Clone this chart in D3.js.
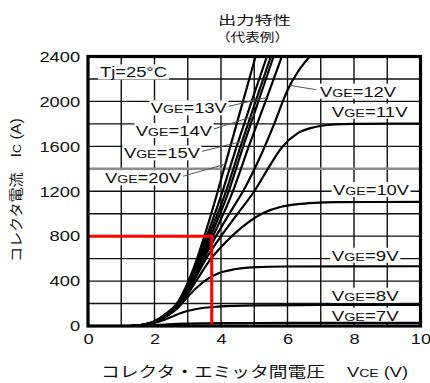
<!DOCTYPE html>
<html>
<head>
<meta charset="utf-8">
<script src="https://cdn.jsdelivr.net/npm/d3@7"></script>
<style>
  html, body { margin: 0; padding: 0; background: #fff; }
  svg { display: block; }
</style>
</head>
<body>
<svg id="chart" width="430" height="383"></svg>
<script>
// ---- Output characteristics (typical), Tj = 25°C ----
const vceTicks = [0, 2, 4, 6, 8, 10];
const icTicks = [0, 400, 800, 1200, 1600, 2000, 2400];

// Collector current Ic (A) against collector-emitter voltage VCE (V), one curve per gate voltage
const vge20V = [[1.25,0],[1.6,8],[2.0,42],[2.35,110],[2.67,200],[3.02,400],[3.28,600],[3.5,800],[3.86,1156],[4.3,1620],[4.68,2020],[5.04,2400]];
const vge17V = [[1.25,0],[1.6,8],[2.0,41],[2.36,110],[2.69,200],[3.05,400],[3.32,600],[3.57,800],[4.0,1156],[4.45,1580],[4.92,2000],[5.38,2400]];
const vge15V = [[1.26,0],[1.6,8],[2.0,40],[2.37,108],[2.7,200],[3.07,400],[3.36,600],[3.63,800],[4.1,1156],[4.6,1610],[5.05,2010],[5.5,2400]];
const vge14V = [[1.26,0],[1.6,8],[2.0,39],[2.38,106],[2.72,200],[3.1,400],[3.4,600],[3.69,800],[4.18,1156],[4.68,1610],[5.14,2015],[5.58,2400]];
const vge13V = [[1.27,0],[1.6,8],[2.0,38],[2.39,105],[2.73,200],[3.12,400],[3.44,600],[3.76,800],[4.3,1156],[4.85,1610],[5.35,2010],[5.83,2400]];
const vge12V = [[1.27,0],[1.6,8],[2.0,38],[2.4,104],[2.75,200],[3.14,400],[3.48,600],[3.85,800],[4.25,1000],[4.7,1220],[5.2,1520],[5.6,1800],[6.0,2100],[6.35,2280],[6.67,2400]];
const vge11V = [[1.28,0],[1.6,8],[2.0,37],[2.4,100],[2.77,200],[3.18,400],[3.55,600],[4.0,800],[4.5,1000],[5.0,1200],[5.45,1420],[5.83,1590],[6.3,1715],[6.8,1770],[7.3,1792],[8.0,1800],[10,1803]];
const vge10V = [[1.28,0],[1.6,8],[2.0,36],[2.4,97],[2.8,200],[3.25,400],[3.7,600],[4.01,705],[4.4,820],[4.81,920],[5.3,1010],[5.81,1062],[6.3,1085],[6.81,1097],[7.5,1103],[10,1105]];
const vge9V  = [[1.3,0],[1.6,8],[2.0,35],[2.4,92],[2.7,160],[2.91,231],[3.3,350],[3.6,420],[3.91,468],[4.4,505],[4.91,522],[6.0,530],[10,532]];
const vge8V  = [[1.32,0],[1.7,8],[2.1,35],[2.5,80],[2.91,127],[3.4,158],[3.9,172],[5.0,183],[7.0,187],[10,188]];
const vge7V  = [[1.4,0],[1.9,6],[2.4,15],[3.0,22],[4.0,26],[6.0,27],[10,28]];

const curves = [vge20V, vge17V, vge15V, vge14V, vge13V, vge12V, vge11V, vge10V, vge9V, vge8V, vge7V];

// Marked operating point
const markerVce = 3.72;
const markerIc = 800;

// Curve labels: gate voltage, left edge (VCE), baseline (Ic); some carry a leader to their curve at a given Ic
const labelVge   = ["13V", "14V", "15V", "20V", "12V", "11V", "10V", "9V", "8V", "7V"];
const labelCurve = [vge13V, vge14V, vge15V, vge20V, vge12V, vge11V, vge10V, vge9V, vge8V, vge7V];
const labelAt    = [[1.89,1894],[1.44,1692],[1.08,1493],[0.51,1271],[6.98,2042],[7.33,1864],[7.37,1166],[7.33,581],[7.33,225],[7.33,47]];
const leaderIc   = [2036, 1867, 1644, 1440, 2142, null, null, null, null, null];

const svg = d3.select("#chart");
const x = d3.scaleLinear().domain([0, 10]).range([88, 420.5]);
const y = d3.scaleLinear().domain([0, 2400]).range([326, 56.5]);

const LATIN = "'Liberation Sans', Arial, sans-serif";
const CJK = "'Noto Sans CJK JP', 'Noto Sans CJK SC', sans-serif";

// grid
const grid = svg.append("g");
grid.selectAll("line.v").data(d3.range(1, 10)).join("line")
  .attr("x1", d => x(d)).attr("x2", d => x(d))
  .attr("y1", y(0)).attr("y2", y(2400))
  .attr("stroke", "#111").attr("stroke-width", 1.4);
grid.selectAll("line.h").data(d3.range(200, 2400, 200)).join("line")
  .attr("x1", x(0)).attr("x2", x(10))
  .attr("y1", d => y(d)).attr("y2", d => y(d))
  .attr("stroke", d => d === 1400 ? "#8c8c8c" : "#111")
  .attr("stroke-width", d => d === 1400 ? 2.6 : 1.4);

// label layer (white boxes sit over the grid)
const boxLayer = svg.append("g");
const curveLayer = svg.append("g");
const leaderLayer = svg.append("g");
const textLayer = svg.append("g");

// curves
const line = d3.line().x(d => x(d[0])).y(d => y(d[1])).curve(d3.curveMonotoneX);
curveLayer.selectAll("path").data(curves).join("path")
  .attr("d", line)
  .attr("fill", "none").attr("stroke", "#000")
  .attr("stroke-width", 2.2).attr("stroke-linejoin", "round");

// red marker lines
svg.append("path")
  .attr("d", `M${x(0)},${y(markerIc)}H${x(markerVce)}V${y(0)}`)
  .attr("fill", "none").attr("stroke", "#ff0000").attr("stroke-width", 3);

// frame
svg.append("rect")
  .attr("x", x(0)).attr("y", y(2400))
  .attr("width", x(10) - x(0)).attr("height", y(0) - y(2400))
  .attr("fill", "none").attr("stroke", "#000").attr("stroke-width", 3.2);

function fit(t, w) {
  t.attr("textLength", w).attr("lengthAdjust", "spacingAndGlyphs");
}
function boxFor(t, pad) {
  const b = t.node().getBBox();
  boxLayer.append("rect")
    .attr("x", b.x - pad).attr("y", b.y + 1)
    .attr("width", b.width + 2 * pad).attr("height", b.height - 2)
    .attr("fill", "#fff");
  return b;
}

// VCE at a given Ic along a curve (linear between points)
function vceAt(curve, ic) {
  for (let i = 1; i < curve.length; i++) {
    const a = curve[i - 1], b = curve[i];
    if ((a[1] - ic) * (b[1] - ic) <= 0 && a[1] !== b[1]) {
      return a[0] + (ic - a[1]) / (b[1] - a[1]) * (b[0] - a[0]);
    }
  }
  return curve[curve.length - 1][0];
}

// Tj label
const tj = textLayer.append("text")
  .attr("x", x(0.36)).attr("y", y(2213))
  .attr("font-family", LATIN).attr("font-size", 15).attr("fill", "#111")
  .text("Tj=25°C");
fit(tj, 67);
boxFor(tj, 2);

// VGE labels
labelVge.forEach((v, i) => {
  const [lv, li] = labelAt[i];
  const t = textLayer.append("text")
    .attr("x", x(lv)).attr("y", y(li))
    .attr("font-family", LATIN).attr("font-size", 15).attr("fill", "#111");
  t.append("tspan").text("V");
  t.append("tspan").attr("font-size", 11.5).text("GE");
  t.append("tspan").text("=" + v);
  fit(t, v.length === 3 ? 76 : 67);
  const b = boxFor(t, 1.5);
  if (leaderIc[i] !== null) {
    const tx = x(vceAt(labelCurve[i], leaderIc[i]));
    const ty = y(leaderIc[i]);
    const onRight = tx > b.x + b.width;
    const sx = onRight ? b.x + b.width + 2 : b.x - 4;
    const sy = y(li) - 7;
    leaderLayer.append("line")
      .attr("x1", sx).attr("y1", sy).attr("x2", tx).attr("y2", ty)
      .attr("stroke", "#555").attr("stroke-width", 1);
  }
});

// axes
const xAxis = svg.append("g")
  .attr("transform", `translate(0,${y(0)})`)
  .call(d3.axisBottom(x).tickValues(vceTicks).tickSize(0).tickPadding(7).tickFormat(d3.format("d")));
const yAxis = svg.append("g")
  .attr("transform", `translate(${x(0)},0)`)
  .call(d3.axisLeft(y).tickValues(icTicks).tickSize(0).tickPadding(6.5).tickFormat(d3.format("d")));
[xAxis, yAxis].forEach(a => {
  a.select(".domain").remove();
  a.selectAll("text")
    .attr("font-family", LATIN).attr("font-size", 15).attr("fill", "#111")
    .attr("transform", "scale(1.22,1)");
});

// title (two lines)
svg.append("text").attr("x", 218).attr("y", 24.5)
  .attr("font-family", CJK).attr("font-size", 12).attr("fill", "#111")
  .call(t => fit(t, 73)).text("出力特性");
svg.append("text").attr("x", 216).attr("y", 41.5)
  .attr("font-family", CJK).attr("font-size", 12).attr("fill", "#111")
  .call(t => fit(t, 73)).text("（代表例）");

// x axis title
svg.append("text").attr("x", 101).attr("y", 377)
  .attr("font-family", CJK).attr("font-size", 15).attr("fill", "#111")
  .call(t => fit(t, 224)).text("コレクタ・エミッタ間電圧");
const xt = svg.append("text").attr("x", 347).attr("y", 377)
  .attr("font-family", LATIN).attr("font-size", 15).attr("fill", "#111");
xt.append("tspan").text("V");
xt.append("tspan").attr("font-size", 11.5).text("CE");
xt.append("tspan").text(" (V)");
fit(xt, 61);

// y axis title
const yt = svg.append("text")
  .attr("transform", "translate(21,262) rotate(-90)")
  .attr("font-family", CJK).attr("font-size", 14).attr("fill", "#111");
yt.append("tspan").text("コレクタ電流　");
yt.append("tspan").attr("font-family", LATIN).attr("font-size", 15).text("I");
yt.append("tspan").attr("font-family", LATIN).attr("font-size", 11.5).text("C");
yt.append("tspan").attr("font-family", LATIN).attr("font-size", 15).text(" (A)");
fit(yt, 144);
</script>
</body>
</html>
